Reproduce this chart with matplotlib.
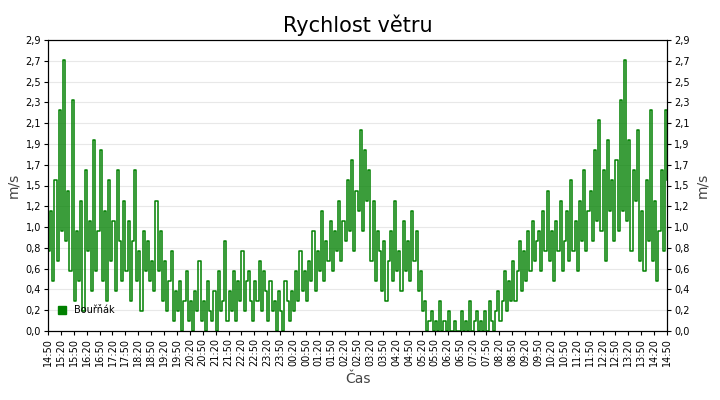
import matplotlib
matplotlib.use('Agg')
import matplotlib.pyplot as plt
import matplotlib.patches as mpatches
import numpy as np

# wind speed, 5-minute samples from 14:50 to 14:50 next day (m/s)
speed = [
    0.8, 1.2, 0.5, 1.5, 0.7, 2.2, 1.0, 2.7, 0.9, 1.4, 0.6, 2.3,
    0.3, 1.0, 0.5, 1.3, 0.2, 1.6, 0.8, 1.1, 0.4, 1.9, 0.6, 1.0,
    1.8, 0.5, 1.2, 0.3, 1.5, 0.7, 1.1, 0.4, 1.6, 0.9, 0.5, 1.3,
    0.6, 1.1, 0.3, 0.9, 1.6, 0.5, 0.8, 0.2, 1.0, 0.6, 0.9, 0.5,
    0.7, 0.4, 1.3, 0.6, 1.0, 0.3, 0.7, 0.2, 0.5, 0.8, 0.1, 0.4,
    0.2, 0.5, 0.0, 0.3, 0.6, 0.1, 0.3, 0.0, 0.4, 0.2, 0.7, 0.1,
    0.3, 0.0, 0.5, 0.2, 0.1, 0.4, 0.0, 0.6, 0.2, 0.3, 0.9, 0.1,
    0.4, 0.2, 0.6, 0.1, 0.5, 0.3, 0.8, 0.2, 0.5, 0.6, 0.3, 0.1,
    0.5, 0.3, 0.7, 0.2, 0.6, 0.4, 0.1, 0.5, 0.2, 0.3, 0.0, 0.4,
    0.2, 0.0, 0.5, 0.3, 0.1, 0.4, 0.2, 0.6, 0.3, 0.8, 0.4, 0.6,
    0.3, 0.7, 0.5, 1.0, 0.4, 0.8, 0.6, 1.2, 0.5, 0.9, 0.7, 1.1,
    0.6, 1.0, 0.8, 1.3, 0.7, 1.1, 0.9, 1.5, 1.0, 1.7, 0.8, 1.4,
    1.2, 2.0, 1.0, 1.8, 1.3, 1.6, 0.7, 1.3, 0.5, 1.0, 0.8, 0.4,
    0.9, 0.3, 0.7, 1.0, 0.5, 1.3, 0.6, 0.8, 0.4, 1.1, 0.6, 0.9,
    0.5, 1.2, 0.7, 1.0, 0.4, 0.6, 0.2, 0.3, 0.0, 0.1, 0.2, 0.0,
    0.1, 0.0, 0.3, 0.0, 0.1, 0.0, 0.2, 0.0, 0.0, 0.1, 0.0, 0.0,
    0.2, 0.0, 0.1, 0.0, 0.3, 0.0, 0.1, 0.2, 0.0, 0.1, 0.0, 0.2,
    0.0, 0.3, 0.1, 0.0, 0.2, 0.4, 0.1, 0.3, 0.6, 0.2, 0.5, 0.3,
    0.7, 0.3, 0.6, 0.9, 0.4, 0.8, 0.5, 1.0, 0.6, 1.1, 0.7, 0.9,
    1.0, 0.6, 1.2, 0.8, 1.4, 0.7, 1.0, 0.5, 1.1, 0.8, 1.3, 0.6,
    0.9, 1.2, 0.7, 1.5, 0.8, 1.1, 0.6, 1.3, 0.9, 1.6, 0.8, 1.2,
    1.4, 0.9, 1.8, 1.1, 2.1, 1.0, 1.6, 0.7, 1.9, 1.2, 1.5, 0.9,
    1.7, 1.0, 2.3, 1.2, 2.7, 1.1, 1.9, 0.8, 1.6, 1.3, 2.0, 0.7,
    1.2, 0.6, 1.5, 0.9, 2.2, 0.7, 1.3, 0.5, 1.0, 1.6, 0.8, 2.2,
    1.5,
]
minutes = [5 * i for i in range(len(speed))]

y_labels = ['0,0', '0,2', '0,4', '0,6', '0,8', '1,0', '1,2', '1,5',
            '1,7', '1,9', '2,1', '2,3', '2,5', '2,7', '2,9']
y_max = 2.9

# x tick labels every 30 min starting 14:50
x_labels = []
for k in range(49):
    t = (14 * 60 + 50 + 30 * k) % (24 * 60)
    x_labels.append(f'{t // 60:02d}:{t % 60:02d}')

GREEN = '#008000'

fig = plt.figure(figsize=(7.2, 4.0), dpi=100)
ax = fig.add_axes([48 / 720, 69 / 400, 619 / 720, 291 / 400])
ax.step(minutes, speed, where='post', color=GREEN, lw=1.1)

yt = np.linspace(0, y_max, len(y_labels))
ax.set_ylim(0, y_max)
ax.set_yticks(yt)
ax.set_yticklabels(y_labels, fontsize=7)
ax.set_xlim(0, 1440)
ax.set_xticks(range(0, 1441, 30))
ax.set_xticklabels(x_labels, rotation=90, fontsize=7)
ax.grid(axis='y', color='#e8e8e8', lw=0.8)
ax.set_axisbelow(True)
ax.tick_params(length=3, pad=2)
ax.set_ylabel('m/s', fontsize=10, color='#444444')
ax.set_xlabel('Čas', fontsize=10, color='#444444')
ax.set_title('Rychlost větru', fontsize=15, pad=6)

ax2 = ax.twinx()
ax2.set_ylim(0, y_max)
ax2.set_yticks(yt)
ax2.set_yticklabels(y_labels, fontsize=7)
ax2.tick_params(length=3, pad=2)
ax2.set_ylabel('m/s', fontsize=10, color='#444444')

ax.legend(handles=[mpatches.Patch(color=GREEN, label='Bouřňák')], loc='lower left',
          frameon=False, fontsize=7, handlelength=0.9, handleheight=0.9,
          borderaxespad=0.6, bbox_to_anchor=(0, 0.02))

fig.savefig('out.png', dpi=100)
